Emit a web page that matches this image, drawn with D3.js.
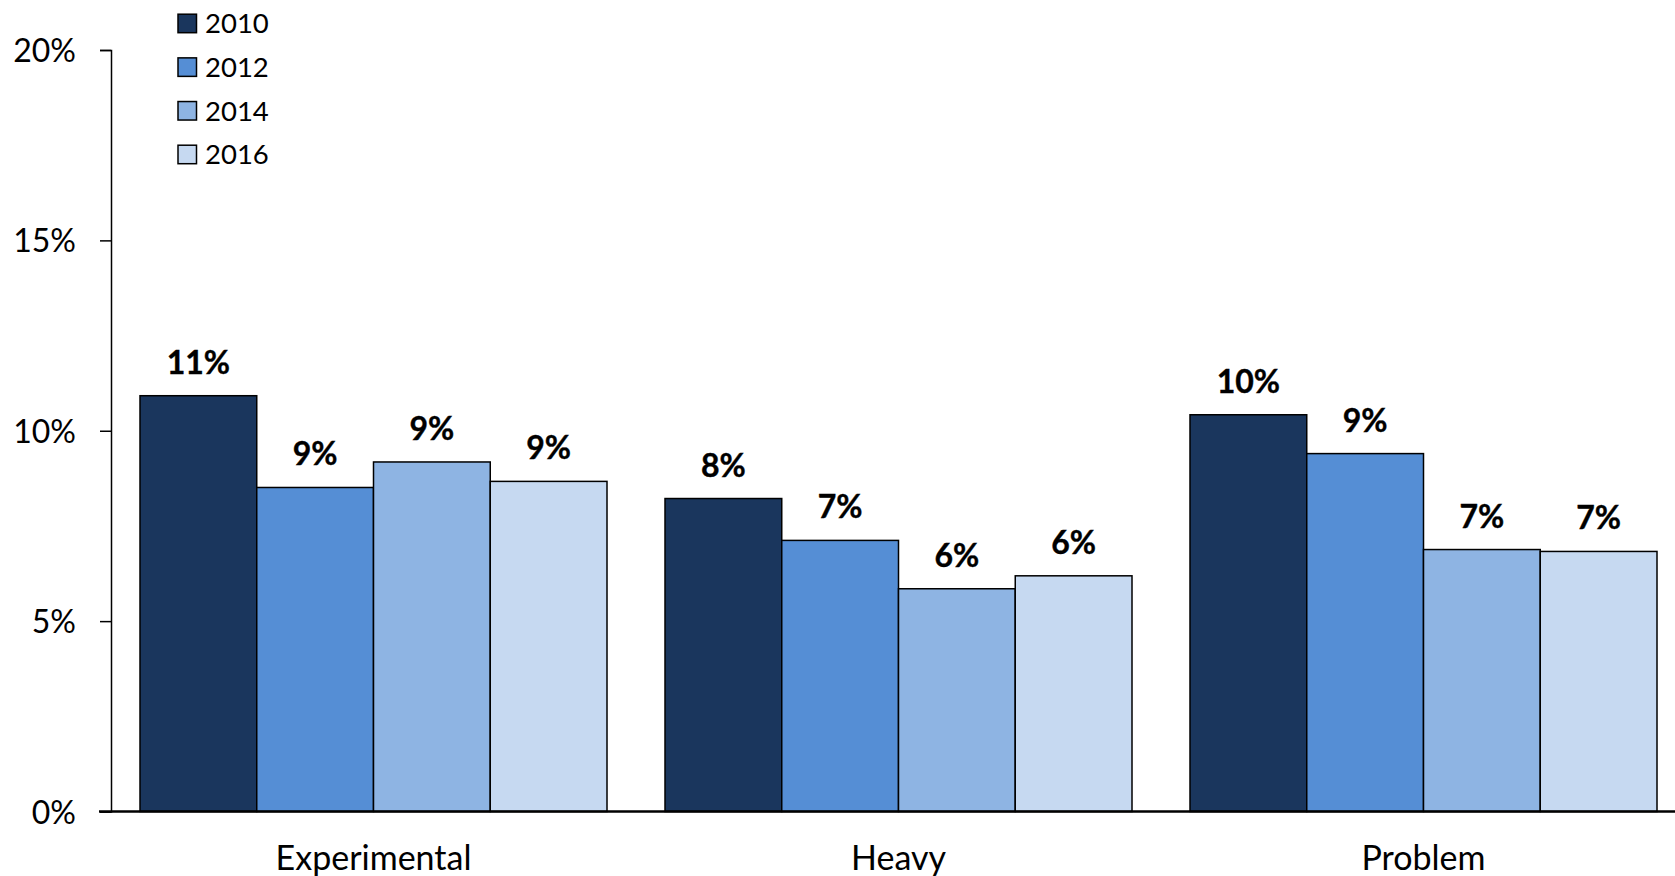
<!DOCTYPE html>
<html>
<head>
<meta charset="utf-8">
<script src="https://cdn.jsdelivr.net/npm/d3@7"></script>
<style>
  html, body { margin: 0; padding: 0; background: #fff; }
  svg { display: block; font-family: Lato, "Open Sans", sans-serif; }
</style>
</head>
<body>
<svg id="chart" width="1675" height="876"></svg>
<script>
const categories = ["Experimental", "Heavy", "Problem"];
const years = ["2010", "2012", "2014", "2016"];
const values2010 = [10.92, 8.22, 10.42];
const values2012 = [8.51, 7.12, 9.40];
const values2014 = [9.18, 5.85, 6.88];
const values2016 = [8.67, 6.19, 6.83];
const yTicks = [0, 5, 10, 15, 20];
const colors = ["#1a365d", "#558ed5", "#8eb4e3", "#c6d9f1"];

const seriesValues = [values2010, values2012, values2014, values2016];
const data = categories.map((c, i) => ({
  category: c,
  bars: years.map((y, j) => ({ year: y, value: seriesValues[j][i], color: colors[j] }))
}));

const svg = d3.select("#chart");
const axisX = 111, yBottom = 811.5, yTop = 50;

const x0 = d3.scaleBand().domain(categories).range([axisX, 1686])
  .paddingInner(58 / 525).paddingOuter(29 / 525);
const x1 = d3.scaleBand().domain(years).range([0, x0.bandwidth()]).padding(0);
const y = d3.scaleLinear().domain([0, 20]).range([yBottom, yTop]);

// bars
const groups = svg.append("g").selectAll("g").data(data).join("g")
  .attr("transform", d => `translate(${x0(d.category)},0)`);

groups.selectAll("rect").data(d => d.bars).join("rect")
  .attr("x", d => x1(d.year))
  .attr("y", d => y(d.value))
  .attr("width", x1.bandwidth())
  .attr("height", d => y(0) - y(d.value))
  .attr("fill", d => d.color)
  .attr("stroke", "#000")
  .attr("stroke-width", 1.5);

groups.selectAll("text").data(d => d.bars).join("text")
  .attr("x", d => x1(d.year) + x1.bandwidth() / 2)
  .attr("y", d => y(d.value) - 22)
  .attr("text-anchor", "middle")
  .attr("font-weight", "bold")
  .attr("font-size", 32)
  .attr("fill", "#000")
  .attr("stroke", "#000").attr("stroke-width", 0.4)
  .text(d => Math.round(d.value) + "%");

// y axis
const yAxis = d3.axisLeft(y).tickValues(yTicks).tickFormat(d => d + "%")
  .tickSize(11).tickSizeOuter(11).tickPadding(24);
const ya = svg.append("g").attr("transform", `translate(${axisX},0)`).call(yAxis);
ya.select(".domain").attr("stroke", "#000").attr("stroke-width", 1.5);
ya.selectAll(".tick line").attr("stroke", "#000").attr("stroke-width", 1.5);
ya.selectAll(".tick text").attr("font-size", 32).attr("fill", "#000")
  .attr("font-family", "Lato, sans-serif").attr("dy", "0.36em");

// baseline
svg.append("line")
  .attr("x1", 99).attr("x2", 1675)
  .attr("y1", y(0)).attr("y2", y(0))
  .attr("stroke", "#000").attr("stroke-width", 2.5);

// category labels
svg.append("g").selectAll("text").data(categories).join("text")
  .attr("x", d => x0(d) + x0.bandwidth() / 2)
  .attr("y", 870)
  .attr("text-anchor", "middle")
  .attr("font-size", 34)
  .attr("fill", "#000")
  .text(d => d);

// legend
const legend = svg.append("g").selectAll("g").data(years).join("g")
  .attr("transform", (d, i) => `translate(178, ${23.2 + i * 43.67})`);
legend.append("rect")
  .attr("x", 0).attr("y", -9).attr("width", 18.5).attr("height", 18.5)
  .attr("fill", (d, i) => colors[i])
  .attr("stroke", "#000").attr("stroke-width", 1.5);
legend.append("text")
  .attr("x", 27).attr("y", 10)
  .attr("font-size", 27.5)
  .attr("fill", "#000")
  .text(d => d);
</script>
</body>
</html>
